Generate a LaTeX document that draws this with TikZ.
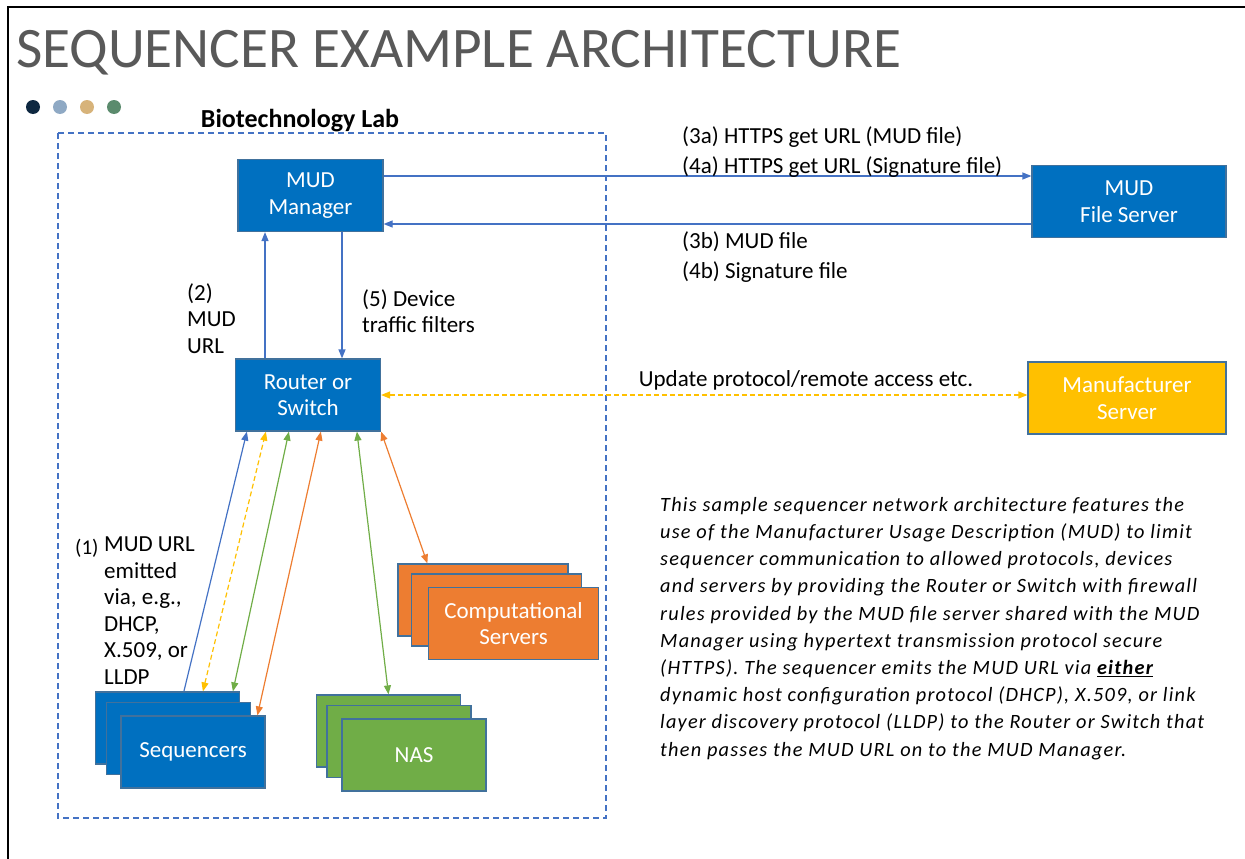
\documentclass[tikz,border=0pt]{standalone}
\usepackage{fontspec}
\setmainfont{Carlito}
\newfontfamily\parafont[LetterSpace=6]{Carlito}
\usetikzlibrary{arrows.meta}
\definecolor{mudblue}  {HTML}{0070C0}
\definecolor{mudedge}  {HTML}{41719C}
\definecolor{arrblue}  {HTML}{4472C4}
\definecolor{mudorange}{HTML}{ED7D31}
\definecolor{mudgreen} {HTML}{70AD47}
\definecolor{mudyellow}{HTML}{FFC000}
\definecolor{titlegray}{HTML}{595959}
\definecolor{dotA}{HTML}{0E2841}
\definecolor{dotB}{HTML}{8FA9C4}
\definecolor{dotC}{HTML}{D7B37A}
\definecolor{dotD}{HTML}{5B8B6D}

\begin{document}
\begin{tikzpicture}[x=1pt, y=-1pt,
  every node/.style={font=\fontsize{23}{26.5}\selectfont, inner sep=0pt},
  box/.style={rectangle, draw=mudedge, line width=1.2pt, fill=mudblue,
              text=white, align=center, minimum width=145pt, minimum height=72pt},
  seqbox/.style={box, minimum width=144pt},
  nasbox/.style={box, fill=mudgreen, minimum width=144pt},
  compbox/.style={box, fill=mudorange, minimum width=170pt},
  lbl/.style={anchor=west},
  arr/.style={-{Triangle[length=9pt, width=7pt]}, line width=1.2pt, draw=arrblue},
  dual/.style={{Triangle[length=9pt, width=7pt]}-{Triangle[length=9pt, width=7pt]}, line width=1.2pt},
  dualdash/.style={dual, draw=mudyellow, dash pattern=on 5pt off 3pt},
]
\useasboundingbox (0,0) rectangle (1245,859);
\draw[line width=2.5pt] (8,859) -- (8,7) -- (1245,7);

% title and dots
\node[lbl, text=titlegray, font=\fontsize{57.3}{60}\selectfont] (title) at (16,53)
  {SEQUENCER EXAMPLE ARCHITECTURE};
\foreach \c [count=\i] in {dotA,dotB,dotC,dotD}
  \fill[\c] (6+27*\i,107) circle (7pt);

% lab
\draw[arrblue, line width=1.2pt, dash pattern=on 6pt off 4pt] (58,133) rectangle (606,818);
\node[font=\fontsize{26}{30}\selectfont\bfseries] (lab) at (300,121) {Biotechnology Lab};

\node[box]     (manager) at (310.5,195.5) {MUD\\Manager};
\node[box]     (router)  at (308,395)     {Router or\\Switch};
\node[box, minimum width=194pt] (files) at (1129,201.5) {MUD\\File Server};
\node[box, fill=mudyellow, minimum width=198pt] (mfr) at (1127,398) {Manufacturer\\Server};

\node[seqbox]  (seqA) at (167.5,728)   {};
\node[seqbox]  (seqB) at (178.5,738.5) {};
\node[seqbox]  (seq)  at (193,752)     {Sequencers};
\node[nasbox]  (nasA) at (388.5,731)   {};
\node[nasbox]  (nasB) at (399,741.5)   {};
\node[nasbox]  (nas)  at (414,755)     {NAS};
\node[compbox] (compA) at (483,600)    {};
\node[compbox] (compB) at (496.5,610)  {};
\node[compbox] (comp)  at (513.5,623.5) {Computational\\Servers};

% connectors
\draw[arr] ([yshift=19.5pt]manager.east) -- ([yshift=25.5pt]files.west);
\draw[arr] ([yshift=-22.5pt]files.west) -- ([yshift=-28.5pt]manager.east);
\draw[arr] ([xshift=-43pt]router.north) -- ([xshift=-45.5pt]manager.south);
\draw[arr] ([xshift=31.5pt]manager.south) -- ([xshift=34pt]router.north);
\draw[dualdash] (router.east) -- (router.east -| mfr.west);

\draw[arr] ([xshift=89pt]seqA.north west) -- ([xshift=12pt]router.south west);
\draw[dualdash] ([xshift=108pt]seqA.north west) -- ([xshift=31pt]router.south west);
\draw[dual, draw=mudgreen] ([xshift=138pt]seqA.north west) -- ([xshift=54pt]router.south west);
\draw[dual, draw=mudorange] ([xshift=137pt]seq.north west) -- ([xshift=86pt]router.south west);
\draw[dual, draw=mudgreen] (nasA.north) -- ([xshift=122pt]router.south west);
\draw[dual, draw=mudorange] ([xshift=30pt]compA.north west) -- (router.south east);

% labels
\node[lbl] (l3a) at (682,137) {(3a) HTTPS get URL (MUD file)};
\node[lbl] (l4a) at (682,167) {(4a) HTTPS get URL (Signature file)};
\node[lbl] (l3b) at (682,242) {(3b) MUD file};
\node[lbl] (l4b) at (682,272) {(4b) Signature file};
\node (lupd) at (806,380) {Update protocol/remote access etc.};
\node[anchor=north west, align=left] (l2) at (187,283) {(2)\\MUD\\URL};
\node[anchor=north west, align=left] (l5) at (362,289) {(5) Device\\traffic filters};
\node[anchor=north west, font=\fontsize{21}{26}\selectfont] (l1n) at (75,539) {(1)};
\node[anchor=north west, align=left] (l1) at (104,537)
  {MUD URL\\emitted\\via, e.g.,\\DHCP,\\X.509, or\\LLDP};

\node[anchor=north west, align=left,
      font=\fontsize{20.3}{27.2}\parafont\itshape] (desc) at (660,497)
  {This sample sequencer network architecture features the\\
   use of the Manufacturer Usage Description (MUD) to limit\\
   sequencer communication to allowed protocols, devices\\
   and servers by providing the Router or Switch with firewall\\
   rules provided by the MUD file server shared with the MUD\\
   Manager using hypertext transmission protocol secure\\
   (HTTPS). The sequencer emits the MUD URL via \underline{\textbf{either}}\\
   dynamic host configuration protocol (DHCP), X.509, or link\\
   layer discovery protocol (LLDP) to the Router or Switch that\\
   then passes the MUD URL on to the MUD Manager.};
\end{tikzpicture}
\end{document}
